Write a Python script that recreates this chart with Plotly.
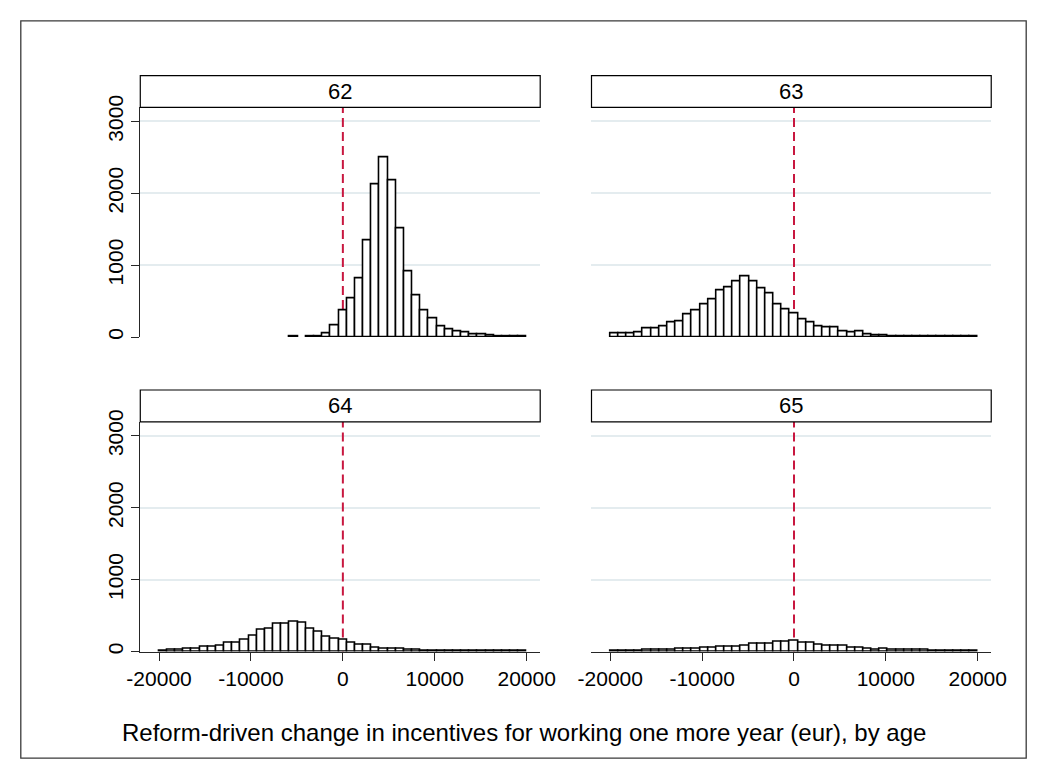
import plotly.graph_objects as go

# Histogram bins shared by all panels: 45 bins spanning -20000 .. 20000
bin_start = -20000
bin_end = 20000
n_bins = 45

ages = ["62", "63", "64", "65"]

# Frequencies per bin (left to right), one list per age
freq_62 = [0, 0, 0, 0, 0, 0, 0, 0, 0, 0, 0, 0, 0, 0, 0, 0,
           8, 0, 4, 6, 50, 165, 365, 540, 812, 1343, 2117, 2503, 2173, 1515,
           909, 583, 366, 255, 150, 108, 72, 58, 32, 31, 20, 15, 13, 9, 6]
freq_63 = [50, 50, 50, 60, 124, 115, 151, 202, 220, 312, 372, 459, 528, 647, 693,
           780, 839, 775, 674, 601, 459, 381, 326, 243, 206, 151, 138, 138, 78, 64,
           78, 41, 28, 18, 14, 9, 9, 9, 9, 4, 4, 4, 4, 4, 4]
freq_64 = [14, 23, 28, 33, 42, 61, 70, 80, 117, 117, 164, 216, 296, 315, 390,
           390, 408, 399, 315, 272, 211, 178, 169, 122, 89, 89, 52, 33, 42, 38,
           23, 19, 9, 5, 5, 5, 5, 5, 5, 5, 5, 5, 5, 5, 5]
freq_65 = [14, 14, 14, 14, 25, 25, 25, 25, 36, 36, 36, 46, 46, 64, 64,
           64, 73, 109, 109, 105, 132, 132, 150, 128, 118, 100, 77, 73, 73, 55,
           50, 41, 27, 41, 20, 20, 20, 20, 20, 14, 14, 14, 14, 14, 14]

x_ticks = [-20000, -10000, 0, 10000, 20000]
x_tick_text = ["-20000", "-10000", "0", "10000", "20000"]
y_ticks = [0, 1000, 2000, 3000]
y_tick_text = ["0", "1000", "2000", "3000"]
x_title = "Reform-driven change in incentives for working one more year (eur), by age"

W, H = 1049, 769
FONT = "Arial, Liberation Sans, sans-serif"
GRID = "#e4ecef"
AXIS = "#262626"
REF_RED = "#c8173f"

bin_w = (bin_end - bin_start) / n_bins
centers = [bin_start + (i + 0.5) * bin_w for i in range(n_bins)]


def px_x(p):
    return p / W


def px_y(p):
    return 1 - p / H


# panel boxes in pixels: (left, right) per column, (top, bottom) per row
cols = [(130, 541.7), (594.5, 1006)]
rows = [(97.3, 331.5), (418, 652.3)]
strip_h = 32.5

x_range = [-22040, 21470]
y_range = [0, 3195]

fig = go.Figure()
series = [freq_62, freq_63, freq_64, freq_65]
shapes = []
annotations = []

for i, (age, freq) in enumerate(zip(ages, series)):
    r, c = divmod(i, 2)
    n = i + 1
    xa = "x" if n == 1 else f"x{n}"
    ya = "y" if n == 1 else f"y{n}"
    fig.add_trace(go.Bar(
        x=centers,
        y=[v if v > 0 else None for v in freq],
        width=bin_w,
        marker=dict(color="white", line=dict(color="black", width=1.6)),
        xaxis=xa, yaxis=ya, showlegend=False, hoverinfo="x+y",
    ))
    left, right = cols[c]
    top, bottom = rows[r]
    bottom_row = r == 1
    left_col = c == 0
    fig.layout[f"xaxis{'' if n == 1 else n}"] = dict(
        domain=[px_x(left), px_x(right)], range=x_range, anchor=ya,
        showgrid=False, zeroline=False,
        showline=bottom_row, linecolor=AXIS, linewidth=1,
        ticks="outside" if bottom_row else "", ticklen=8, tickwidth=1, tickcolor=AXIS,
        tickvals=x_ticks, ticktext=x_tick_text, showticklabels=bottom_row,
        tickfont=dict(family=FONT, size=21, color="black"),
    )
    fig.layout[f"yaxis{'' if n == 1 else n}"] = dict(
        domain=[px_y(bottom), px_y(top)], range=y_range, anchor=xa,
        showgrid=True, gridcolor=GRID, gridwidth=1.5, zeroline=False,
        showline=left_col, linecolor=AXIS, linewidth=1,
        ticks="outside" if left_col else "", ticklen=8, tickwidth=1, tickcolor=AXIS,
        tickvals=y_ticks, ticktext=y_tick_text, showticklabels=left_col, tickangle=-90,
        tickfont=dict(family=FONT, size=21, color="black"),
    )
    # reference line at zero, behind the bars
    shapes.append(dict(
        type="line", xref=xa, yref=ya, x0=0, x1=0, y0=0, y1=y_range[1],
        line=dict(color=REF_RED, width=2, dash="9px,5px"), layer="between",
    ))
    # strip header box with the age label
    shapes.append(dict(
        type="rect", xref="paper", yref="paper",
        x0=px_x(left), x1=px_x(right), y0=px_y(top), y1=px_y(top - strip_h),
        line=dict(color="black", width=1.2), fillcolor="white", layer="above",
    ))
    annotations.append(dict(
        text=age, xref="paper", yref="paper",
        x=(px_x(left) + px_x(right)) / 2, y=px_y(top - strip_h / 2),
        showarrow=False, xanchor="center", yanchor="middle",
        font=dict(family=FONT, size=22, color="black"),
    ))

# outer frame of the graph
shapes.append(dict(
    type="rect", xref="paper", yref="paper",
    x0=px_x(7), x1=px_x(1042), y0=px_y(761), y1=px_y(9),
    line=dict(color="#3a3a3a", width=1.3), fillcolor="rgba(0,0,0,0)", layer="above",
))

annotations.append(dict(
    text=x_title, xref="paper", yref="paper",
    x=0.5, y=px_y(735), showarrow=False,
    xanchor="center", yanchor="middle",
    font=dict(family=FONT, size=24, color="black"),
))

fig.update_layout(
    width=W, height=H,
    margin=dict(l=0, r=0, t=0, b=0),
    paper_bgcolor="white", plot_bgcolor="white",
    bargap=0,
    shapes=shapes, annotations=annotations,
    font=dict(family=FONT),
)

# let the figure sit flush against the page edges
fig.write_html("out.html", post_script="document.body.style.margin='0';")
